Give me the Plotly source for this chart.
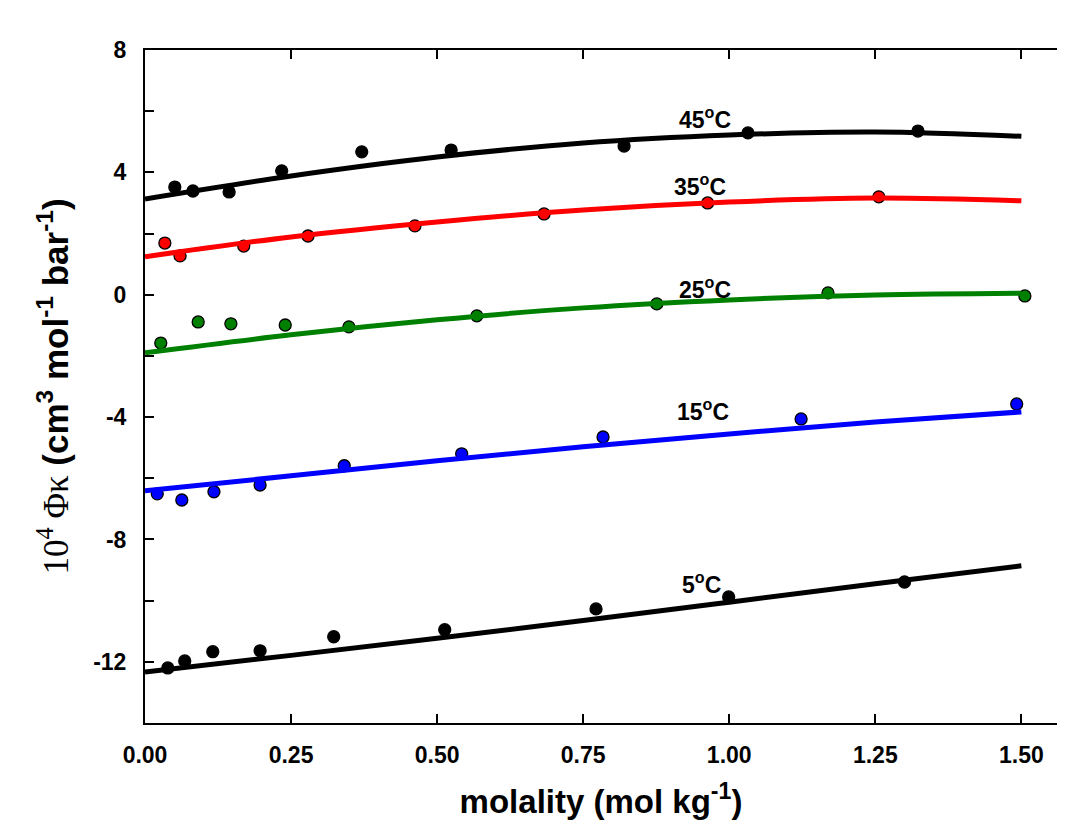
import plotly.graph_objects as go

# ---- data ----
m45 = [0.051, 0.082, 0.144, 0.234, 0.371, 0.524, 0.820, 1.032, 1.323]
v45 = [3.52, 3.39, 3.36, 4.05, 4.67, 4.73, 4.86, 5.29, 5.35]
m35 = [0.034, 0.060, 0.169, 0.279, 0.462, 0.683, 0.963, 1.256]
v35 = [1.69, 1.27, 1.59, 1.92, 2.25, 2.64, 3.00, 3.20]
m25 = [0.027, 0.091, 0.147, 0.240, 0.349, 0.568, 0.876, 1.169, 1.506]
v25 = [-1.58, -0.89, -0.95, -0.99, -1.05, -0.69, -0.30, 0.06, -0.04]
m15 = [0.021, 0.063, 0.118, 0.197, 0.341, 0.542, 0.784, 1.123, 1.492]
v15 = [-6.51, -6.71, -6.44, -6.22, -5.59, -5.20, -4.65, -4.06, -3.57]
m05 = [0.039, 0.068, 0.116, 0.197, 0.323, 0.513, 0.772, 0.999, 1.300]
v05 = [-12.20, -11.97, -11.67, -11.64, -11.18, -10.95, -10.27, -9.88, -9.39]

fit_m = [0.0, 0.25, 0.50, 0.75, 1.00, 1.25, 1.50]
fit45 = [3.13, 3.88, 4.50, 4.96, 5.22, 5.32, 5.18]
fit35 = [1.24, 1.89, 2.38, 2.77, 3.03, 3.16, 3.07]
fit25 = [-1.90, -1.31, -0.82, -0.43, -0.17, -0.01, 0.05]
fit15 = [-6.41, -5.92, -5.43, -4.97, -4.55, -4.16, -3.83]
fit05 = [-12.33, -11.79, -11.23, -10.65, -10.05, -9.45, -8.86]

labels = ["45<sup>o</sup>C", "35<sup>o</sup>C", "25<sup>o</sup>C", "15<sup>o</sup>C", "5<sup>o</sup>C"]
label_x = [0.958, 0.950, 0.958, 0.955, 0.953]
label_y = [5.78, 3.60, 0.22, -3.76, -9.41]

x_ticks = [0.0, 0.25, 0.50, 0.75, 1.00, 1.25, 1.50]
y_ticks = [-12, -8, -4, 0, 4, 8]
y_ticktext = ["-12", "-8", "-4", "0", "4", "8"]

series = [
    (m45, v45, fit45, "black"),
    (m35, v35, fit35, "#ff0000"),
    (m25, v25, fit25, "#008000"),
    (m15, v15, fit15, "#0000ff"),
    (m05, v05, fit05, "black"),
]

fig = go.Figure()
for m, v, f, col in series:
    fig.add_trace(go.Scatter(x=m, y=v, mode="markers",
                             marker=dict(size=12, color=col, line=dict(color="black", width=1.3)),
                             showlegend=False))
for m, v, f, col in series:
    fig.add_trace(go.Scatter(x=fit_m, y=f, mode="lines",
                             line=dict(color=col, width=5, shape="spline", smoothing=1.0),
                             showlegend=False))

for t, lx, ly in zip(labels, label_x, label_y):
    fig.add_annotation(x=lx, y=ly, text=t, showarrow=False,
                       font=dict(family="Liberation Sans, Arial", size=23, color="black", weight="bold"))

bold_font = dict(family="Liberation Sans, Arial", size=23, color="black", weight="bold")

fig.update_layout(
    width=1049, height=812,
    margin=dict(l=137, r=0, t=42, b=97),
    paper_bgcolor="white", plot_bgcolor="white",
    xaxis=dict(range=[0, 1.561], tickvals=x_ticks, tickformat=".2f",
               ticks="inside", ticklen=9, tickwidth=2, tickcolor="black",
               showline=True, linecolor="black", linewidth=2, mirror="ticks",
               showgrid=False, zeroline=False, tickfont=bold_font,
               ticklabelstandoff=10,
               title=dict(text="molality (mol kg<sup>-1</sup>)",
                          font=dict(family="Liberation Sans, Arial", size=33, color="black", weight="bold"),
                          standoff=30)),
    yaxis=dict(range=[-14, 8], tickvals=y_ticks, ticktext=y_ticktext,
               ticks="inside", ticklen=9, tickwidth=2, tickcolor="black",
               minor=dict(dtick=2, tick0=0, ticks="inside", ticklen=9, tickwidth=2, tickcolor="black"),
               showline=True, linecolor="black", linewidth=2, mirror=False,
               showgrid=False, zeroline=False, tickfont=bold_font,
               ticklabelstandoff=12,
               title=dict(text='<span style="font-family:Liberation Serif;font-weight:normal">10<sup>4</sup> Φκ</span> (cm<sup>3</sup> mol<sup>-1</sup> bar<sup>-1</sup>)',
                          font=dict(family="Liberation Sans, Arial", size=35, color="black", weight="bold"),
                          standoff=14)),
)

fig.write_html("out.html")
